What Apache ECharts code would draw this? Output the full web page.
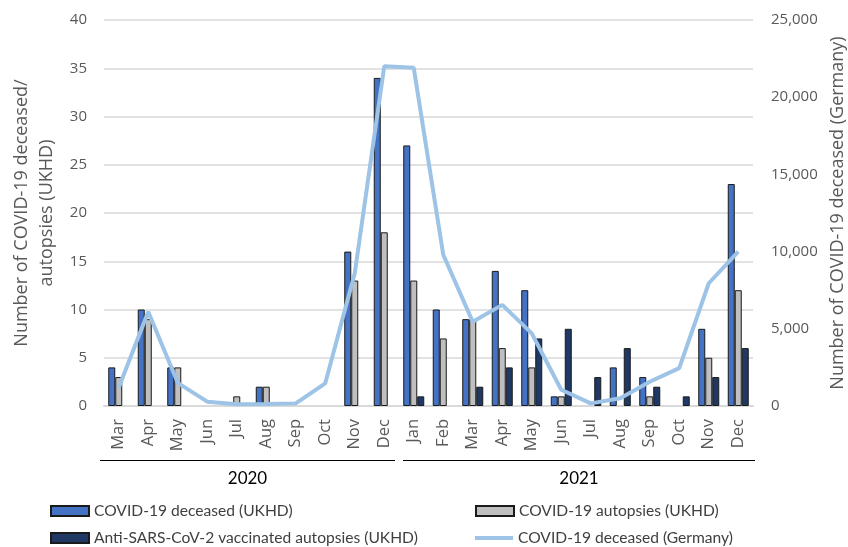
<!DOCTYPE html>
<html>
<head>
<meta charset="utf-8">
<script src="https://cdn.jsdelivr.net/npm/echarts@6/dist/echarts.min.js"></script>
<style>
  html, body { margin: 0; padding: 0; background: #fff; }
  #chart { width: 848px; height: 547px; }
</style>
</head>
<body>
<div id="chart"></div>
<script>
// months, 2020 Mar .. 2021 Dec
const months = ["Mar", "Apr", "May", "Jun", "Jul", "Aug", "Sep", "Oct", "Nov", "Dec",
  "Jan", "Feb", "Mar", "Apr", "May", "Jun", "Jul", "Aug", "Sep", "Oct", "Nov", "Dec"];
const years = ["2020", "2021"];
const yearSpans = [[0, 9], [10, 21]];

const deceasedUKHD = [4, 10, 4, 0, 0, 2, 0, 0, 16, 34, 27, 10, 9, 14, 12, 1, 0, 4, 3, 0, 8, 23];
const autopsiesUKHD = [3, 9, 4, 0, 1, 2, 0, 0, 13, 18, 13, 7, 9, 6, 4, 1, 0, 0, 1, 0, 5, 12];
const vaccinatedUKHD = [0, 0, 0, 0, 0, 0, 0, 0, 0, 0, 1, 0, 2, 4, 7, 8, 3, 6, 2, 1, 3, 6];
const deceasedGermany = [1200, 6100, 1500, 280, 110, 130, 170, 1470, 8600, 22000, 21900, 9800,
  5450, 6550, 4700, 1050, 170, 500, 1570, 2450, 7950, 10000];

const leftTicks = { min: 0, max: 40, interval: 5 };
const rightTicks = { min: 0, max: 25000, interval: 5000 };

const axisFont = "'Open Sans'";
const textFont = "Lato";
const grey = "#595959";

const chart = echarts.init(document.getElementById("chart"));

// zero counts draw no bar at all (otherwise the border leaves a flat line)
const noZero = arr => arr.map(v => (v === 0 ? null : v));

const barStyle = color => ({ color: color, borderColor: "#1a1a1a", borderWidth: 1 });

const legendBase = {
  icon: "rect",
  itemWidth: 38,
  itemHeight: 10,
  itemGap: 4,
  padding: 0,
  textStyle: { fontFamily: textFont, fontSize: 15.6, color: "#404040" },
  selectedMode: false
};

chart.setOption({
  animation: false,
  grid: { left: 104, right: 95, top: 20, bottom: 141, outerBoundsMode: "none" },
  legend: [
    Object.assign({}, legendBase, { left: 50, top: 503, data: ["COVID-19 deceased (UKHD)"] }),
    Object.assign({}, legendBase, { left: 475, top: 503, data: ["COVID-19 autopsies (UKHD)"] }),
    Object.assign({}, legendBase, { left: 50, top: 530, data: ["Anti-SARS-CoV-2 vaccinated autopsies (UKHD)"] }),
    Object.assign({}, legendBase, {
      left: 475, top: 530, itemHeight: 4,
      icon: "path://M0,0 H38 V4 H0 Z",
      data: ["COVID-19 deceased (Germany)"]
    })
  ],
  xAxis: {
    type: "category",
    data: months,
    axisLine: { lineStyle: { color: "#d9d9d9", width: 2 } },
    axisTick: { show: false },
    axisLabel: {
      rotate: 90, interval: 0, margin: 13,
      fontFamily: axisFont, fontSize: 16.5, color: grey
    }
  },
  yAxis: [
    {
      type: "value",
      min: leftTicks.min, max: leftTicks.max, interval: leftTicks.interval,
      name: "Number of COVID-19 deceased/\nautopsies (UKHD)",
      nameLocation: "middle", nameGap: 42, nameRotate: 90,
      nameTextStyle: { fontFamily: axisFont, fontSize: 18, color: grey, lineHeight: 25 },
      axisLabel: { fontFamily: axisFont, fontSize: 15, color: grey, margin: 17 },
      splitLine: { lineStyle: { color: "#d9d9d9", width: 1.5 } }
    },
    {
      type: "value",
      min: rightTicks.min, max: rightTicks.max, interval: rightTicks.interval,
      name: "Number of COVID-19 deceased (Germany)",
      nameLocation: "middle", nameGap: 76, nameRotate: 90,
      nameTextStyle: { fontFamily: axisFont, fontSize: 18, color: grey },
      axisLabel: {
        fontFamily: axisFont, fontSize: 15, color: grey, margin: 18,
        formatter: v => v.toLocaleString("en-US")
      },
      splitLine: { show: false }
    }
  ],
  series: [
    { type: "bar", name: "COVID-19 deceased (UKHD)", data: noZero(deceasedUKHD),
      barWidth: 7, barGap: "0%", itemStyle: barStyle("#4472c4") },
    { type: "bar", name: "COVID-19 autopsies (UKHD)", data: noZero(autopsiesUKHD),
      barWidth: 7, barGap: "0%", itemStyle: barStyle("#bfbfbf") },
    { type: "bar", name: "Anti-SARS-CoV-2 vaccinated autopsies (UKHD)", data: noZero(vaccinatedUKHD),
      barWidth: 7, barGap: "0%", itemStyle: barStyle("#203864") },
    {
      name: "COVID-19 deceased (Germany)",
      type: "line",
      yAxisIndex: 1,
      data: deceasedGermany,
      symbol: "none",
      z: 5,
      color: "#9dc3e6",
      lineStyle: { color: "#9dc3e6", width: 4 }
    }
  ]
});

// year brackets under the month labels, placed from the category axis
function drawYears() {
  const c0 = chart.convertToPixel({ xAxisIndex: 0 }, 0);
  const c1 = chart.convertToPixel({ xAxisIndex: 0 }, 1);
  const half = (c1 - c0) / 2;
  const els = [];
  yearSpans.forEach((span, i) => {
    const x1 = chart.convertToPixel({ xAxisIndex: 0 }, span[0]) - half + (i === 0 ? -4 : 4);
    const x2 = chart.convertToPixel({ xAxisIndex: 0 }, span[1]) + half + (i === 0 ? -4 : 2);
    els.push({
      type: "line",
      shape: { x1: Math.round(x1), y1: 460.5, x2: Math.round(x2), y2: 460.5 },
      style: { stroke: "#000", lineWidth: 1 }
    });
    els.push({
      type: "text",
      x: (x1 + x2) / 2, y: 479,
      style: {
        text: years[i], fill: "#000", fontFamily: textFont, fontSize: 17,
        align: "center", verticalAlign: "middle"
      }
    });
  });
  chart.setOption({ graphic: els });
}
drawYears();
</script>
</body>
</html>
